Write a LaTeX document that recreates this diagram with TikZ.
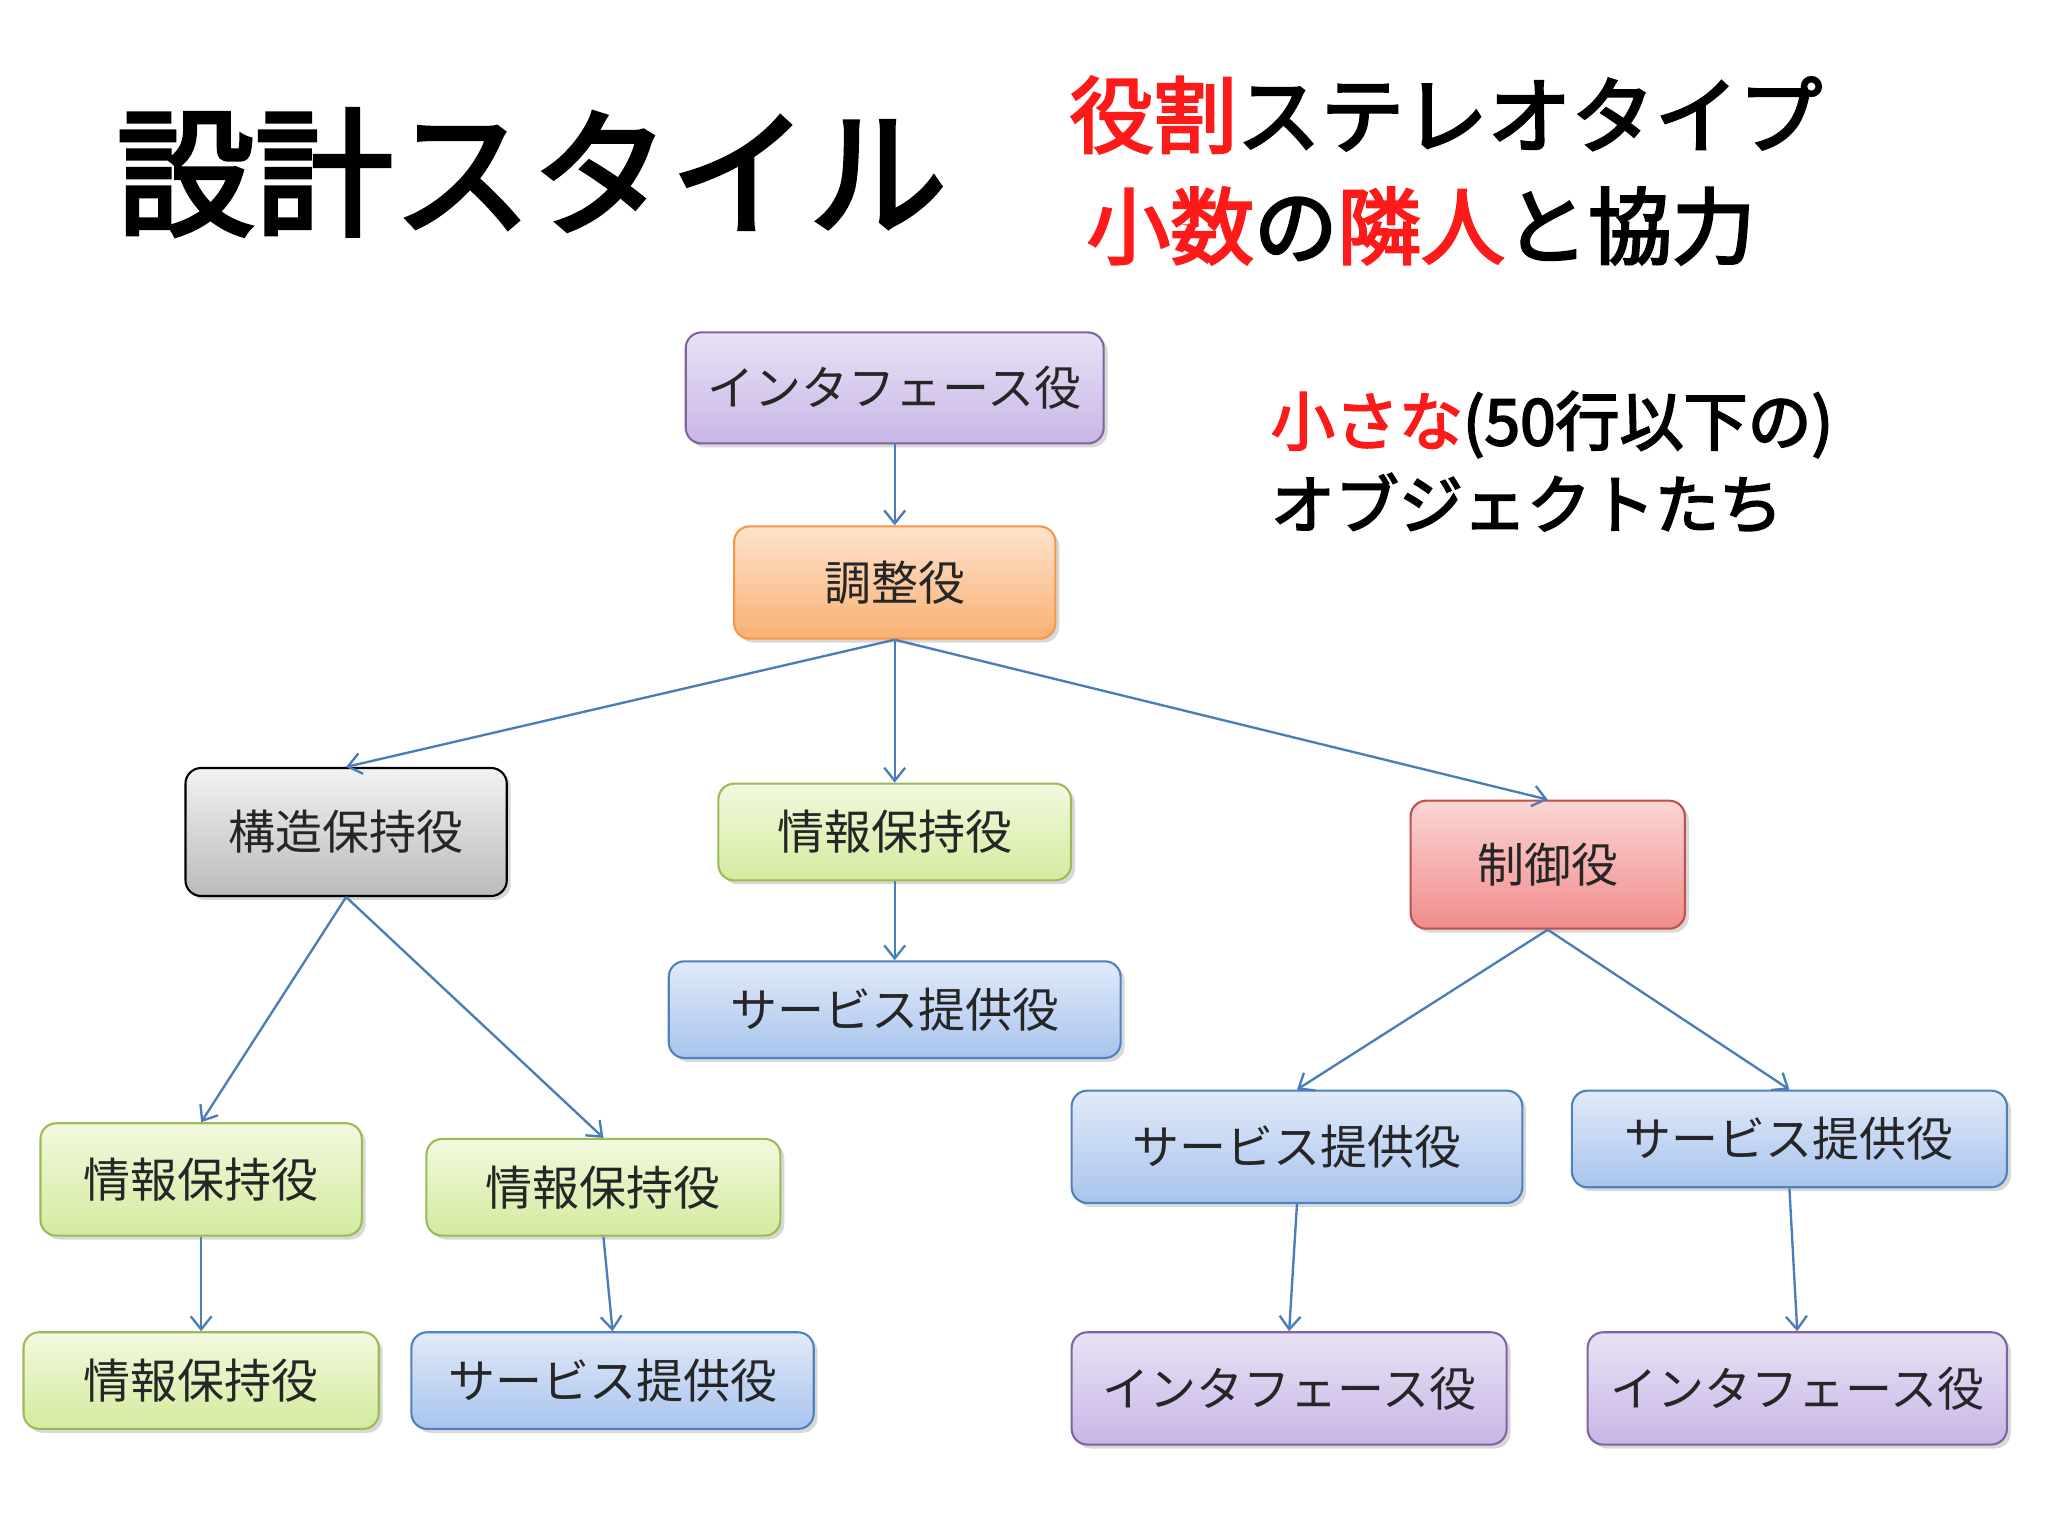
\documentclass[tikz,border=0pt]{standalone}
\usepackage{fontspec}
\setmainfont{Noto Sans CJK JP}
\newfontfamily\cjkb[FakeBold=3]{Noto Sans CJK JP}
\usetikzlibrary{shadows,arrows.meta}
\definecolor{ar}{HTML}{4A7EBB}
\definecolor{tred}{HTML}{FF1A1A}
\definecolor{HTML8064A2}{HTML}{8064A2}\definecolor{HTMLE9E2F5}{HTML}{E9E2F5}\definecolor{HTMLC8B6E6}{HTML}{C8B6E6}
\definecolor{HTMLF79646}{HTML}{F79646}\definecolor{HTMLFDE3CC}{HTML}{FDE3CC}\definecolor{HTMLF9B073}{HTML}{F9B073}
\definecolor{HTMLF2F2F2}{HTML}{F2F2F2}\definecolor{HTMLBBBBBB}{HTML}{BBBBBB}
\definecolor{HTML9BBB59}{HTML}{9BBB59}\definecolor{HTMLF2F9DF}{HTML}{F2F9DF}\definecolor{HTMLD3EB9E}{HTML}{D3EB9E}
\definecolor{HTMLC0504D}{HTML}{C0504D}\definecolor{HTMLFCD5D5}{HTML}{FCD5D5}\definecolor{HTMLF08B8B}{HTML}{F08B8B}
\definecolor{HTML4F81BD}{HTML}{4F81BD}\definecolor{HTMLE1EAF8}{HTML}{E1EAF8}\definecolor{HTMLA8C4EE}{HTML}{A8C4EE}
\tikzset{
 bx/.style={draw, rounded corners=6pt, line width=0.8pt, font=\fontsize{18}{21}\selectfont, text=black!85, drop shadow={shadow xshift=1.5pt,shadow yshift=-1.5pt,opacity=0.3}, inner sep=0pt},
 pur/.style={bx, draw=HTML8064A2, top color=HTMLE9E2F5, bottom color=HTMLC8B6E6},
 org/.style={bx, draw=HTMLF79646, top color=HTMLFDE3CC, bottom color=HTMLF9B073},
 gry/.style={bx, draw=black, top color=HTMLF2F2F2, bottom color=HTMLBBBBBB},
 grn/.style={bx, draw=HTML9BBB59, top color=HTMLF2F9DF, bottom color=HTMLD3EB9E},
 rd/.style={bx, draw=HTMLC0504D, top color=HTMLFCD5D5, bottom color=HTMLF08B8B},
 blu/.style={bx, draw=HTML4F81BD, top color=HTMLE1EAF8, bottom color=HTMLA8C4EE},
 sz/.style 2 args={minimum width=#1*0.5pt, minimum height=#2*0.5pt},
 ln/.style={draw=ar, line width=0.9pt, -{Straight Barb[length=5pt,width=8pt]}}
}
\begin{document}
\begin{tikzpicture}[x=0.5pt,y=-0.5pt]
\useasboundingbox[fill=white] (0,0) rectangle (1568,1176);
\node[anchor=west,font=\cjkb\fontsize{53}{53}\selectfont] (title) at (82,132) {設計スタイル};
\node[anchor=west,font=\cjkb\fontsize{32}{35}\selectfont] (t1) at (812,88) {\textcolor{tred}{役割}ステレオタイプ};
\node[anchor=west,font=\cjkb\fontsize{32}{35}\selectfont] (t2) at (825,173) {\textcolor{tred}{小数}の\textcolor{tred}{隣人}と協力};
\node[anchor=west,font=\cjkb\fontsize{24.5}{27}\selectfont] (t3) at (966,325) {\textcolor{tred}{小さな}(50行以下の)};
\node[anchor=west,font=\cjkb\fontsize{24.5}{27}\selectfont] (t4) at (966,385) {オブジェクトたち};

\node[pur,sz={320}{85}] (if1) at (685,297) {インタフェース役};
\node[org,sz={246}{86}] (ch) at (685,446) {調整役};
\node[gry,sz={246}{98}] (kz) at (265,637) {構造保持役};
\node[grn,sz={270}{74}] (j1) at (685,637) {情報保持役};
\node[rd,sz={210}{98}] (sg) at (1185,662) {制御役};
\node[blu,sz={346}{74}] (s1) at (685,773) {サービス提供役};
\node[grn,sz={246}{86}] (j2) at (154,903) {情報保持役};
\node[grn,sz={271}{74}] (j3) at (462,909) {情報保持役};
\node[blu,sz={345}{86}] (s2) at (993,878) {サービス提供役};
\node[blu,sz={333}{74}] (s3) at (1370,872) {サービス提供役};
\node[grn,sz={272}{74}] (j4) at (154,1057) {情報保持役};
\node[blu,sz={308}{74}] (s4) at (469,1057) {サービス提供役};
\node[pur,sz={333}{86}] (if2) at (987,1063) {インタフェース役};
\node[pur,sz={321}{86}] (if3) at (1376,1063) {インタフェース役};

\draw[ln] (if1.south) -- (ch.north);
\draw[ln] (ch.south) -- (kz.north);
\draw[ln] (ch.south) -- (j1.north);
\draw[ln] (ch.south) -- (sg.north);
\draw[ln] (j1.south) -- (s1.north);
\draw[ln] (kz.south) -- (j2.north);
\draw[ln] (kz.south) -- (j3.north);
\draw[ln] (sg.south) -- (s2.north);
\draw[ln] (sg.south) -- (s3.north);
\draw[ln] (j2.south) -- (j4.north);
\draw[ln] (j3.south) -- (s4.north);
\draw[ln] (s2.south) -- (if2.north);
\draw[ln] (s3.south) -- (if3.north);
\end{tikzpicture}
\end{document}
